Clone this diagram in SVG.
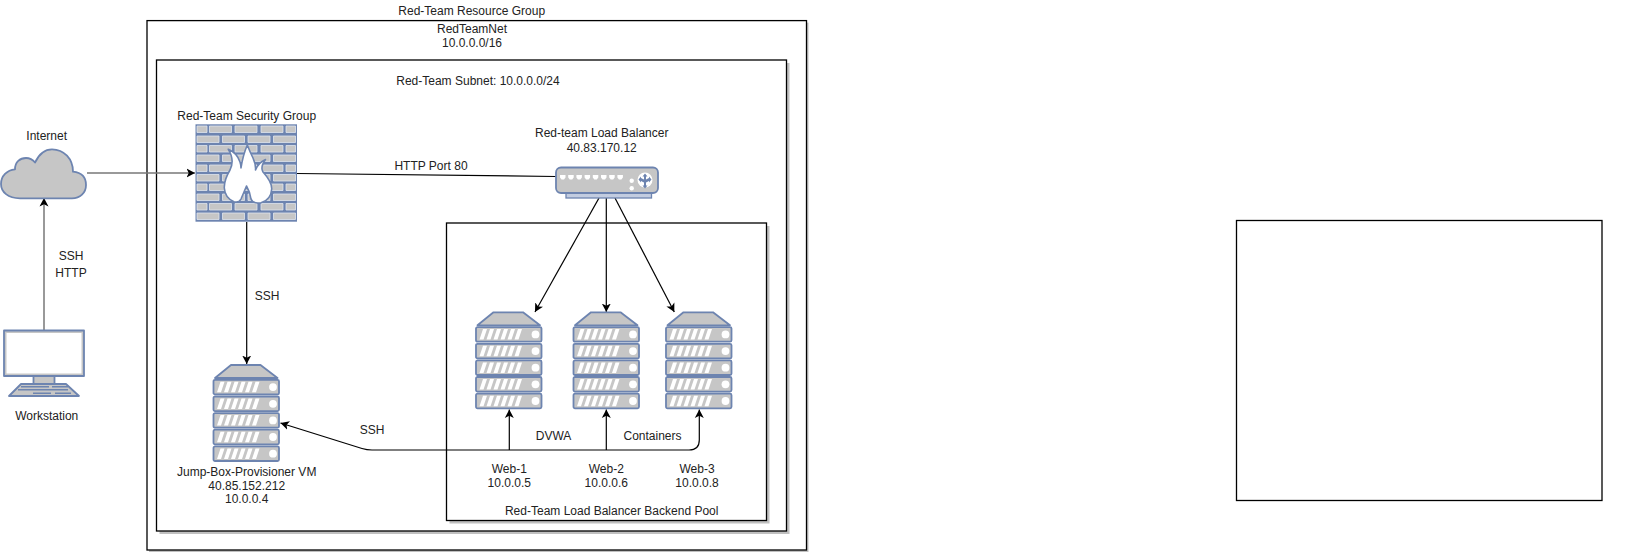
<svg xmlns="http://www.w3.org/2000/svg" xmlns:xlink="http://www.w3.org/1999/xlink" width="1627" height="554" viewBox="0 0 1627 554">
<style>
text{font-family:"Liberation Sans",Arial,sans-serif;font-size:12px;fill:#222;text-anchor:middle;dominant-baseline:central}
.box{fill:#fff;stroke:#000;stroke-width:1.3}
.shadow{fill:#c0c0c0}
.ic{fill:#c6c6c6;stroke:#6d84b0;stroke-width:1.8;stroke-linejoin:round}
.w{fill:#fff;stroke:none}
.blue{fill:#6d84b0;stroke:none}
.c{fill:none;stroke:#000;stroke-width:1.2}
.g{fill:none;stroke:#777;stroke-width:1.5}
</style>
<defs>
<marker id="a" markerUnits="userSpaceOnUse" markerWidth="9" markerHeight="10" viewBox="0 0 9 10" refX="8.5" refY="5" orient="auto"><path d="M0 .5L8.5 5 0 9.5 2.2 5z" fill="#000"/></marker>
<g id="unit">
<rect class="ic" x="0" y="0" width="65.5" height="14.6" rx="1.5"/>
<path class="w" d="M3.500 12.500L7 2h4L7.500 12.500zM10.500 12.500L14 2h4L14.500 12.500zM17.500 12.500L21 2h4L21.500 12.500zM24.500 12.500L28 2h4L28.500 12.500zM31.500 12.500L35 2h4L35.500 12.500zM38.500 12.500L42 2h4L42.500 12.500z"/>
<circle class="w" cx="59.500" cy="7.300" r="3.900"/>
</g>
<g id="server">
<path class="ic" d="M1.500 13L17.500 0H47L64 13z"/>
<use xlink:href="#unit" href="#unit" y="14.800"/>
<use xlink:href="#unit" href="#unit" y="31.500"/>
<use xlink:href="#unit" href="#unit" y="48.100"/>
<use xlink:href="#unit" href="#unit" y="64.700"/>
<use xlink:href="#unit" href="#unit" y="81.400"/>
</g>
</defs>
<rect width="1627" height="554" fill="#fff"/>

<g id="resource-group">
<rect class="shadow" x="149" y="22.600" width="659.500" height="529.400"/>
<rect class="box" x="147" y="20.600" width="659.500" height="529.400"/>
<text x="471.700" y="10.500">Red-Team Resource Group</text>
<text x="472" y="28.500">RedTeamNet</text>
<text x="472" y="42.500">10.0.0.0/16</text>
</g>
<g id="subnet">
<rect class="shadow" x="159.500" y="63" width="630" height="471"/>
<rect class="box" x="156.500" y="60" width="630" height="471"/>
<text x="478" y="81">Red-Team Subnet: 10.0.0.0/24</text>
</g>
<g id="backend-pool">
<rect class="shadow" x="449.500" y="226" width="320" height="297.500"/>
<rect class="box" x="446.500" y="223" width="320" height="297.500"/>
<text x="611.700" y="510.700">Red-Team Load Balancer Backend Pool</text>
</g>
<g id="empty-box">
<rect class="box" x="1236.500" y="220.500" width="365.500" height="280"/>
</g>

<g id="connectors">
<path class="g" marker-end="url(#a)" d="M87 173H195"/>
<path class="g" marker-end="url(#a)" d="M44 330V198"/>
<path class="c" d="M297 173.500L556 176.500"/>
<path class="c" marker-end="url(#a)" d="M246.700 222V364"/>
<path class="c" marker-end="url(#a)" d="M599 198L535 312"/>
<path class="c" marker-end="url(#a)" d="M606.300 198V312"/>
<path class="c" marker-end="url(#a)" d="M615 198L674.300 312"/>
<path class="c" marker-end="url(#a)" d="M689 450Q699.300 450 699.300 440V409.500"/>
<path class="c" marker-end="url(#a)" d="M689 450H372Q367 450 362 448.500L280.500 423"/>
<path class="c" marker-end="url(#a)" d="M509.300 450V409.500"/>
<path class="c" marker-end="url(#a)" d="M606.300 450V409.500"/>
<text x="431" y="166">HTTP Port 80</text>
<text x="71" y="256">SSH</text>
<text x="71" y="272.500">HTTP</text>
<text x="267" y="296">SSH</text>
<text x="372" y="430">SSH</text>
<text x="553.500" y="435.700">DVWA</text>
<text x="652.500" y="435.700">Containers</text>
</g>

<g id="internet">
<path class="ic" d="M20 198.300C8 198.300 1 192 1 184C1 176 7 170 15 169.300C15 162 20 158 26 158C30 158 33 160 35 162.500C39 154 45 149.300 52 149.300C64 149.300 73 159 73 171.700C81 172.500 86 177 86 185C86 193 80 198.300 72 198.300Z"/>
<text x="46.700" y="135.700">Internet</text>
</g>

<g id="workstation">
<rect class="ic" x="33.500" y="375" width="21" height="9"/>
<rect class="ic" x="4" y="330.500" width="80" height="45.500"/>
<rect class="w" x="6.500" y="333" width="75" height="40.500"/>
<path class="ic" d="M21 384H66L79 396H9z"/>
<path class="blue" d="M21 386h28v1.500H21zM52 386h16v1.500H52zM18 389h50v1.500H18zM33 392.500h18v1.500H33zM55 392.500h16v1.500H55z"/>
<text x="46.700" y="415.700">Workstation</text>
</g>

<g id="security-group">
<text x="246.700" y="115.700">Red-Team Security Group</text>
<rect x="195.500" y="124.300" width="101.500" height="97.400" fill="#6d84b0"/>
<g fill="#c6c6c6" stroke="#dfe4ee" stroke-width=".8">
<path d="M197 126h10v6.500h-10zM209.500 126h22v6.500h-22zM235 126h22v6.500h-22zM261 126h22v6.500h-22zM286 126h9.500v6.500H286z"/>
<path d="M197 136h22v6.500h-22zM222.500 136h22v6.500h-22zM248 136h22v6.500h-22zM273.500 136h22v6.500h-22z"/>
<path d="M197 145.500h10v6.500h-10zM209.500 145.500h22v6.500h-22zM235 145.500h22v6.500h-22zM261 145.500h22v6.500h-22zM286 145.500h9.500v6.500H286z"/>
<path d="M197 155h22v6.500h-22zM222.500 155h22v6.500h-22zM248 155h22v6.500h-22zM273.500 155h22v6.500h-22z"/>
<path d="M197 165h10v6.500h-10zM209.500 165h22v6.500h-22zM235 165h22v6.500h-22zM261 165h22v6.500h-22zM286 165h9.500v6.500H286z"/>
<path d="M197 174.500h22v6.500h-22zM222.500 174.500h22v6.500h-22zM248 174.500h22v6.500h-22zM273.500 174.500h22v6.500h-22z"/>
<path d="M197 184h10v6.500h-10zM209.500 184h22v6.500h-22zM235 184h22v6.500h-22zM261 184h22v6.500h-22zM286 184h9.500v6.500H286z"/>
<path d="M197 194h22v6.500h-22zM222.500 194h22v6.500h-22zM248 194h22v6.500h-22zM273.500 194h22v6.500h-22z"/>
<path d="M197 203.500h10v6.500h-10zM209.500 203.500h22v6.500h-22zM235 203.500h22v6.500h-22zM261 203.500h22v6.500h-22zM286 203.500h9.500v6.500H286z"/>
<path d="M197 213h22v6.500h-22zM222.500 213h22v6.500h-22zM248 213h22v6.500h-22zM273.500 213h22v6.500h-22z"/>
</g>
<path d="M247.300 145Q250 152 253 158Q256 165 255.500 170Q258 163 265.500 159.500Q260 167 263 172Q272 182 271.700 189Q271 200 261 202.700Q253 204 251 199Q250 192 246.500 186Q244 192 241 199Q239 203 234 201.700Q225 198 224.300 188Q224 180 230 170Q235 160 228.300 149.300Q237 153 240 162Q241 165 241 168Q243 155 247.300 145Z" fill="#fff" stroke="#6d84b0" stroke-width="1.600" stroke-linejoin="round"/>
</g>

<g id="load-balancer">
<text x="601.700" y="133.300">Red-team Load Balancer</text>
<text x="601.700" y="148">40.83.170.12</text>
<rect x="566" y="192" width="85.500" height="6" fill="#c2cce0" stroke="#6d84b0" stroke-width="1.300"/>
<rect class="ic" x="556" y="167.500" width="102" height="25.500" rx="5"/>
<path class="w" d="M560 175h5.500v2.500l-1.500 2h-2.500l-1.500-2zM568.200 175h5.500v2.500l-1.500 2h-2.500l-1.500-2zM576.400 175h5.500v2.500l-1.500 2h-2.500l-1.500-2zM584.600 175h5.500v2.500l-1.500 2h-2.500l-1.500-2zM592.800 175h5.500v2.500l-1.500 2h-2.500l-1.500-2zM601 175h5.500v2.500l-1.500 2h-2.500l-1.500-2zM609.200 175h5.500v2.500l-1.500 2h-2.500l-1.500-2zM617.400 175h5.500v2.500l-1.500 2h-2.500l-1.500-2z"/>
<circle class="w" cx="631.700" cy="180.700" r="2.200"/>
<circle class="w" cx="631.700" cy="188.300" r="2.200"/>
<circle class="w" cx="645" cy="180" r="7.500"/>
<path class="blue" d="M645 173.500l2.500 3h-1.500v3l3-1.500v-1.500l2.500 3-2.500 3v-1.500l-3 1.500v3l1.500 0-2.500 3-2.500-3 1.500 0v-3l-3-1.500v1.500l-2.500-3 2.500-3v1.500l3 1.500v-3h-1.500z"/>
</g>

<g id="jump-box">
<use xlink:href="#server" href="#server" x="213.500" y="365"/>
<text x="246.700" y="471.700">Jump-Box-Provisioner VM</text>
<text x="246.700" y="485.500">40.85.152.212</text>
<text x="246.700" y="499">10.0.0.4</text>
</g>
<g id="web-1">
<use xlink:href="#server" href="#server" x="476" y="312.300"/>
<text x="509.300" y="469">Web-1</text>
<text x="509.300" y="482.700">10.0.0.5</text>
</g>
<g id="web-2">
<use xlink:href="#server" href="#server" x="573.500" y="312.300"/>
<text x="606.300" y="469">Web-2</text>
<text x="606.300" y="482.700">10.0.0.6</text>
</g>
<g id="web-3">
<use xlink:href="#server" href="#server" x="666" y="312.300"/>
<text x="697" y="469">Web-3</text>
<text x="697" y="482.700">10.0.0.8</text>
</g>
</svg>
